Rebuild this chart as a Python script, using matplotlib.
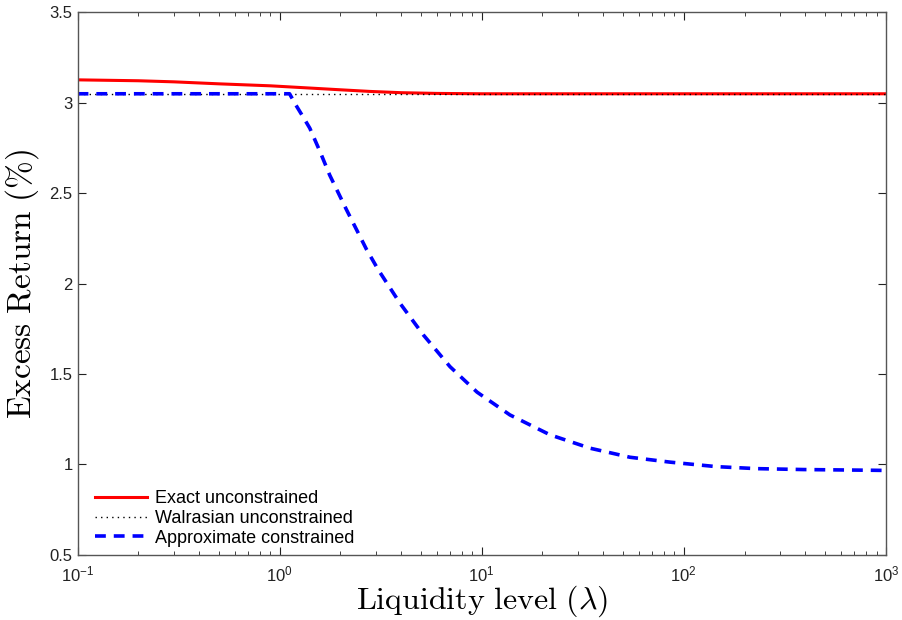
import numpy as np
import matplotlib
matplotlib.use("Agg")
import matplotlib.pyplot as plt

plt.rcParams['font.family'] = ['Liberation Sans', 'DejaVu Sans']
plt.rcParams['mathtext.fontset'] = 'cm'

# exact unconstrained (red)
lam_exact = [0.1, 0.2, 0.3, 0.5, 0.9, 1.5, 2.0, 2.8, 4.0, 6.0, 10, 30, 100, 1000]
ret_exact = [3.127, 3.122, 3.116, 3.105, 3.094, 3.080, 3.072, 3.063, 3.056, 3.052, 3.050, 3.050, 3.050, 3.050]

# walrasian unconstrained (black dotted)
lam_walras = [0.1, 1000]
ret_walras = [3.05, 3.05]

# approximate constrained (blue dashed)
lam_approx = [0.1, 1.12, 1.2, 1.31, 1.41, 1.585, 1.77, 2.14, 2.69, 3.08, 3.94, 5.14, 6.97, 9.49,
              13.8, 21.8, 34.4, 54.2, 85.5, 145.5, 229.6, 390.8, 867, 1000]
ret_approx = [3.05, 3.05, 2.99, 2.92, 2.86, 2.73, 2.60, 2.41, 2.19, 2.076, 1.892, 1.717, 1.541, 1.40,
              1.274, 1.164, 1.090, 1.040, 1.013, 0.988, 0.977, 0.972, 0.968, 0.967]

fig = plt.figure(figsize=(9.02, 6.2), dpi=100)
ax = fig.add_axes([0.086, 0.105, 0.896, 0.875])

ax.plot(lam_exact, ret_exact, color='#ff0000', lw=2.2, label='Exact unconstrained')
ax.plot(lam_walras, ret_walras, color='black', lw=1.0, ls=(0, (1, 3)), label='Walrasian unconstrained')
ax.plot(lam_approx, ret_approx, color='#0000ff', lw=2.6, ls=(0, (3, 2.2)), label='Approximate constrained')

ax.set_xscale('log')
ax.set_xlim(0.1, 1000)
ax.set_ylim(0.5, 3.5)
ax.set_yticks([0.5, 1, 1.5, 2, 2.5, 3, 3.5])
ax.set_yticklabels(['0.5', '1', '1.5', '2', '2.5', '3', '3.5'])

ax.tick_params(which='both', direction='in', top=True, right=True, labelsize=12, colors='#222222')
ax.tick_params(which='major', length=6)
ax.tick_params(which='minor', length=3)
ax.tick_params(axis='x', pad=7)
for s in ax.spines.values():
    s.set_color('#555555')
    s.set_linewidth(1.0)

ax.set_xlabel(r'$\mathrm{Liquidity\ level\ }(\lambda)$', fontsize=23, labelpad=-1)
ax.set_ylabel(r'$\mathrm{Excess\ Return\ (\%)}$', fontsize=24, labelpad=6)

ax.legend(loc='lower left', frameon=False, fontsize=13, handlelength=2.9,
          handletextpad=0.4, labelspacing=0.15, borderpad=0.3, borderaxespad=0,
          bbox_to_anchor=(0.015, 0.005))

fig.savefig('out.png', dpi=100)
